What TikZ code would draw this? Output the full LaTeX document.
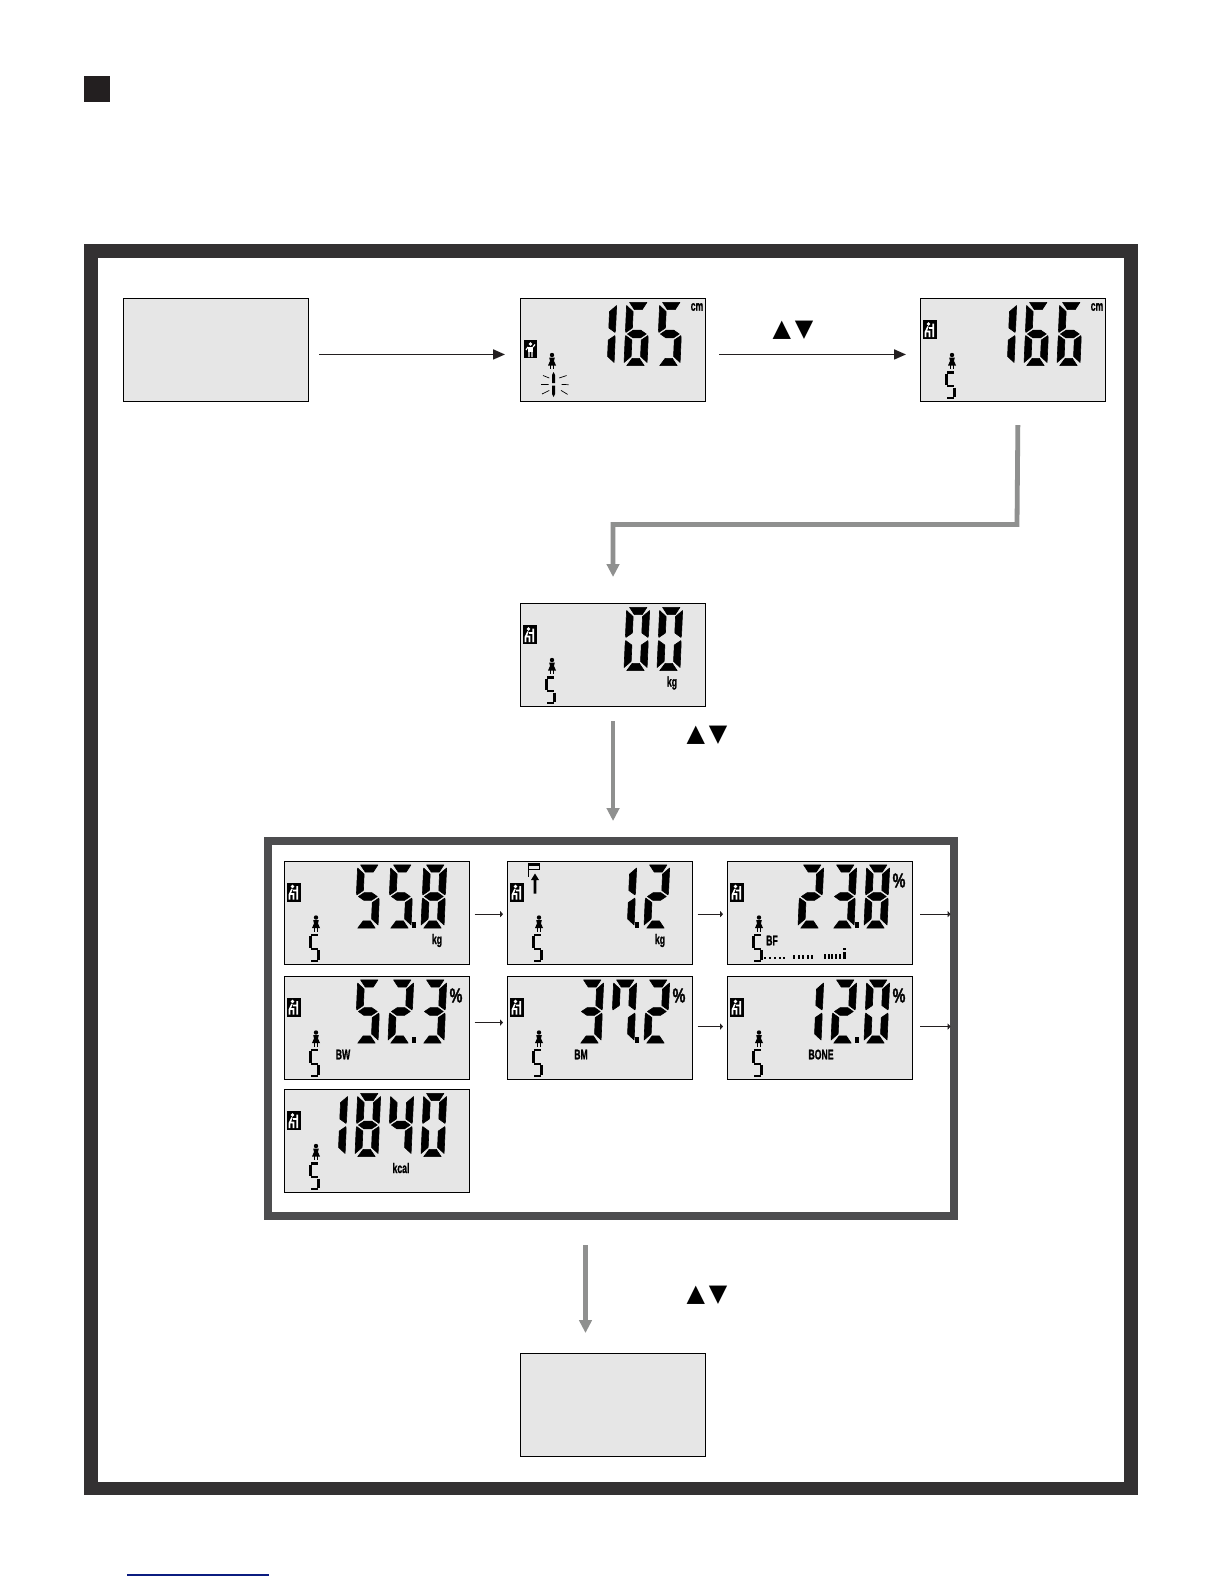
\documentclass[tikz,border=0pt]{standalone}
\usepackage{fontspec}
\setmainfont{Liberation Sans}
\newfontfamily\symfont{DejaVu Sans}
\newfontfamily\lcdfont[UprightFont={* Bold},FakeBold=1.5]{Liberation Sans}
\usetikzlibrary{arrows.meta}
\definecolor{frameink}{HTML}{333132}
\definecolor{innerink}{HTML}{4D4D4F}
\definecolor{lcdfill}{HTML}{E6E6E6}
\definecolor{grayink}{HTML}{8F908F}
\definecolor{arrowink}{HTML}{231F20}
\definecolor{linkblue}{HTML}{0B1C80}
\tikzset{
  lcd/.style={draw=black,fill=lcdfill,line width=.55pt,rectangle,minimum width=92.5pt,minimum height=51.5pt,inner sep=0pt,anchor=north west},
  thinarrow/.style={draw=arrowink,line width=.9pt,-{Triangle[length=6pt,width=5pt]}},
  grayarrow/.style={draw=grayink,line width=2.4pt,-{Triangle[length=6.5pt,width=6.2pt]}},
  tinyarrow/.style={draw=arrowink,line width=.6pt,-{Triangle[length=1.4pt,width=3pt]}},
  lab/.style={inner sep=0pt,font=\lcdfont\fontsize{7}{8}\selectfont},
  updown/.style={inner sep=0pt,font=\symfont\fontsize{12}{14}\selectfont},
}
\def\slnt{0.12}
\def\sega{\filldraw (0.13,0.006)--(0.87,0.006)--(0.68,0.12)--(0.35,0.12)--cycle;}
\def\segf{\filldraw (0.01,0.055)--(0.30,0.15)--(0.30,0.405)--(0.03,0.475)--(0.01,0.44)--cycle;}
\def\segb{\filldraw (0.99,0.055)--(0.70,0.15)--(0.70,0.405)--(0.97,0.475)--(0.99,0.44)--cycle;}
\def\segg{\filldraw (0.10,0.5)--(0.34,0.44)--(0.66,0.44)--(0.90,0.5)--(0.66,0.56)--(0.34,0.56)--cycle;}
\def\sege{\filldraw (0.01,0.56)--(0.03,0.525)--(0.30,0.595)--(0.30,0.85)--(0.01,0.945)--cycle;}
\def\segc{\filldraw (0.99,0.56)--(0.97,0.525)--(0.70,0.595)--(0.70,0.85)--(0.99,0.945)--cycle;}
\def\segd{\filldraw (0.35,0.88)--(0.65,0.88)--(0.87,0.994)--(0.13,0.994)--cycle;}
\expandafter\def\csname dl0\endcsname{a,b,c,d,e,f}
\expandafter\def\csname dl1\endcsname{b,c}
\expandafter\def\csname dl2\endcsname{a,b,g,e,d}
\expandafter\def\csname dl3\endcsname{a,b,g,c,d}
\expandafter\def\csname dl4\endcsname{f,g,b,c}
\expandafter\def\csname dl5\endcsname{a,f,g,c,d}
\expandafter\def\csname dl6\endcsname{a,f,g,e,c,d}
\expandafter\def\csname dl7\endcsname{a,b,c,f}
\expandafter\def\csname dl8\endcsname{a,b,c,d,e,f,g}
\newcommand\lcddig[2]{%
  \begin{scope}[shift={(#1+1.5,4)},xscale=23.5,yscale=64,xslant=\slnt,line width=.3pt,line join=round]
    \edef\thislist{\csname dl#2\endcsname}%
    \foreach \s in \thislist {\csname seg\s\endcsname}
  \end{scope}}
\newcommand\lcddot{\fill (127.5,61.5) rectangle (131.5,67);}
\newcommand\smallfive{%
  \begin{scope}[shift={(26,74.5)},line width=1.15pt]
    \draw (1,0)--(8,0); \draw (.6,1)--(.6,12.5); \draw (1.2,13.7)--(7.5,13.7);
    \draw (8.4,15)--(8.4,24.5); \draw (8,25.7)--(1,25.7);
  \end{scope}}
\newcommand\woman{%
  \begin{scope}[shift={(32,55)}]
    \fill (0,2) circle [radius=2.2];
    \fill (-2.8,4.5)--(2.8,4.5)--(2,8)--(4,12.5)--(-4,12.5)--(-2,8)--cycle;
    \draw[line width=.6pt] (-1.3,12)--(-1.3,16);
    \draw[line width=.6pt] (1.3,12)--(1.3,16);
  \end{scope}}
\newcommand\sitter{%
  \begin{scope}[shift={(3,22)}]
    \fill (0,0) rectangle (13.5,19);
    \fill[white] (5.5,4) circle [radius=1.8];
    \draw[white,line width=.8pt] (5,6.5)--(2.5,12)--(2.5,17) (2.5,11.5)--(6.5,11.5)--(6.5,17) (6,8)--(11,8) (10.2,3.5)--(10.2,17);
  \end{scope}}
\newcommand\stander{%
  \begin{scope}[shift={(3.5,42)}]
    \fill (0,0) rectangle (13,18);
    \fill[white] (7,4) circle [radius=1.8];
    \fill[white] (4.5,6.5) rectangle (9.5,12);
    \draw[white,line width=.6pt] (5.5,12)--(5.5,17) (8.5,12)--(8.5,17) (9.5,7)--(11.5,4.5) (4.5,7)--(2.5,10);
  \end{scope}}
\newcommand\lcdlabel[3]{\node[lab] at (#1,#2) {\scalebox{0.62}[1]{#3}};}
\newcommand\lcdpct{\node[inner sep=0pt,font=\lcdfont\fontsize{10}{11}\selectfont] at (172,20) {\scalebox{0.72}[1]{\%}};}
\newcommand\lcdscreen[4]{%
  \node[lcd] (#1) at (#2,#3) {};
  \begin{scope}[shift={(#2,#3)}]#4\end{scope}}
\begin{document}
\begin{tikzpicture}[x=0.5pt,y=-0.5pt]
\useasboundingbox (0,0) rectangle (1224,1584);
\fill[white] (0,0) rectangle (1224,1584);
% marker square
\fill[arrowink] (84,76) rectangle (110,102);
% outer frame
\draw[frameink,line width=6.75pt] (90.75,251) rectangle (1131,1488.5);
\draw[linkblue,line width=.6pt] (127,1575)--(269,1575);
% screens
\lcdscreen{a}{123}{298}{}
\lcdscreen{b}{520}{298}{\stander\woman
  \lcddig{72}{1}\lcddig{105}{6}\lcddig{138}{5}
  \lcdlabel{177}{9}{cm}
  \fill (33.5,74)--(35,77)--(35,85)--(32,85)--(32,77)--cycle;
  \fill (32,87.5)--(35,87.5)--(35,96)--(33.5,99)--(32,96)--cycle;
  \draw[line width=.35pt] (23,77.5)--(29.3,80) (21,86.4)--(28.6,86.4) (22,96)--(29.3,92.4)
    (39.3,80)--(46.6,77.5) (41.6,86.4)--(48.6,86.7) (41,92.4)--(47.6,96.4);}
\lcdscreen{c}{920}{298}{\sitter\woman\smallfive
  \lcddig{72}{1}\lcddig{105}{6}\lcddig{138}{6}
  \lcdlabel{177}{9}{cm}}
\lcdscreen{d}{520}{603}{\sitter\woman\smallfive
  \lcddig{105}{0}\lcddig{138}{0}
  \lcdlabel{152}{80}{kg}}
% results frame
\node[draw=innerink,line width=4pt,rectangle,minimum width=343pt,minimum height=187.5pt,inner sep=0pt,anchor=north west] (results) at (263.5,837) {};
\lcdscreen{r1}{284}{860.5}{\sitter\woman\smallfive
  \lcddig{72}{5}\lcddig{105}{5}\lcddig{138}{8}\lcddot
  \lcdlabel{153}{80}{kg}}
\lcdscreen{r2}{507}{860.5}{\sitter\woman\smallfive
  \lcddig{105}{1}\lcddig{138}{2}\lcddot
  \lcdlabel{153}{80}{kg}
  \draw[line width=.5pt] (21,2)--(21,16);
  \draw[line width=.4pt] (21,2.5) rectangle (32,9);
  \fill (21,2.5) rectangle (32,5);
  \fill (28,13)--(32,19.5)--(29.4,19.5)--(29.4,33)--(26.6,33)--(26.6,19.5)--(24,19.5)--cycle;}
\lcdscreen{r3}{727}{860.5}{\sitter\woman\smallfive
  \lcddig{72}{2}\lcddig{105}{3}\lcddig{138}{8}\lcddot
  \lcdpct
  \lcdlabel{45}{80}{BF}
  \foreach \u in {37,42,47,51.5,56}{\fill (\u,96) rectangle ++(2,2.4);}
  \foreach \u in {66,70.5,75,79.5,84}{\fill (\u,94) rectangle ++(2.4,4.4);}
  \foreach \u in {96.5,100.5,104,108,112}{\fill (\u,93) rectangle ++(2,5.4);}
  \fill (116,91) rectangle ++(2.6,7.4);
  \fill (116,87.5) rectangle ++(2.6,2);}
\lcdscreen{r4}{284}{975.5}{\sitter\woman\smallfive
  \lcddig{72}{5}\lcddig{105}{2}\lcddig{138}{3}\lcddot
  \lcdpct
  \lcdlabel{59}{79}{BW}}
\lcdscreen{r5}{507}{975.5}{\sitter\woman\smallfive
  \lcddig{72}{3}\lcddig{105}{7}\lcddig{138}{2}\lcddot
  \lcdpct
  \lcdlabel{74}{79}{BM}}
\lcdscreen{r6}{727}{975.5}{\sitter\woman\smallfive
  \lcddig{72}{1}\lcddig{105}{2}\lcddig{138}{0}\lcddot
  \lcdpct
  \lcdlabel{94}{79}{BONE}}
\lcdscreen{r7}{284}{1089}{\sitter\woman\smallfive
  \lcddig{39}{1}\lcddig{72}{8}\lcddig{105}{4}\lcddig{138}{0}
  \lcdlabel{117}{79}{kcal}}
\lcdscreen{z}{520}{1353}{}
% connectors
\draw[thinarrow,shorten <=5pt,shorten >=7.5pt] ([yshift=-2.2pt]a.east)--([yshift=-2.2pt]b.west);
\draw[thinarrow,shorten <=6.5pt,shorten >=7pt] ([yshift=-2.2pt]b.east)--([yshift=-2.2pt]c.west);
\coordinate (e1) at (1017,524.5);
\coordinate (e2) at (613,524.5);
\draw[grayarrow,shorten <=11.5pt,shorten >=13pt,line join=miter] ([xshift=2.5pt]c.south)--(e1)--(e2)--(d.north);
\draw[grayarrow,shorten <=7pt,shorten >=8pt] (d.south)--(d.south|-results.north);
\draw[grayarrow,shorten <=12.5pt,shorten >=10pt] ([xshift=-12.5pt]results.south)--([xshift=-12.5pt]z.north-|results.south);
\foreach \f/\t/\sh in {r1/r2/-0.8,r2/r3/-0.8,r4/r5/2.5,r5/r6/0.5}{
  \draw[tinyarrow,shorten <=2.2pt,shorten >=2pt] ([yshift=\sh pt]\f.east)--([yshift=\sh pt]\t.west);}
\coordinate (q3) at (results.east|-r3.east);
\coordinate (q6) at (results.east|-r6.east);
\draw[tinyarrow,shorten <=3.5pt,shorten >=1.5pt] ([yshift=-.8pt]r3.east)--([yshift=-.8pt,xshift=-2pt]q3);
\draw[tinyarrow,shorten <=3.5pt,shorten >=1.5pt] ([yshift=.5pt]r6.east)--([yshift=.5pt,xshift=-2pt]q6);
% up/down keys
\node[updown] (k1) at (793,330.5) {▲\kern2pt▼};
\node[updown] (k2) at (707,735.5) {▲\kern2pt▼};
\node[updown] (k3) at (707,1295.5) {▲\kern2pt▼};
\end{tikzpicture}
\end{document}
